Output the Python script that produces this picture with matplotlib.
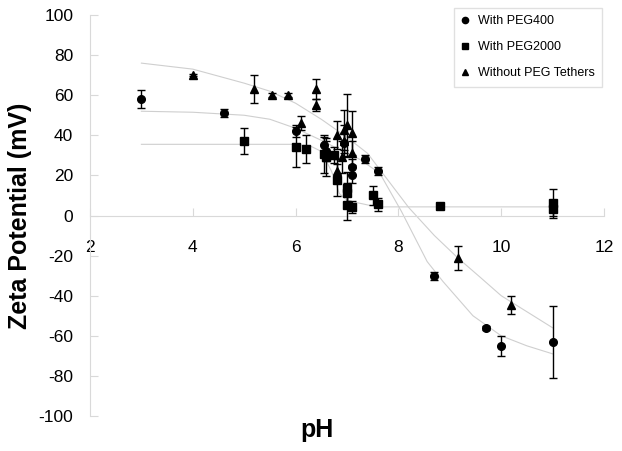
import matplotlib
matplotlib.use("Agg")
import matplotlib.pyplot as plt
from matplotlib.lines import Line2D

plt.rcParams['font.family'] = ['Liberation Sans', 'DejaVu Sans']
plt.rcParams['axes.unicode_minus'] = False

# ---- data ----
peg400_x = [3.0, 4.6, 6.0, 6.55, 6.6, 6.95, 7.1, 7.1, 7.35, 7.6, 8.7, 9.7, 10.0, 11.0]
peg400_y = [58, 51, 42, 35, 32, 36, 24, 20, 28, 22, -30, -56, -65, -63]
peg400_e = [4.5, 2, 3, 4, 5, 5, 4, 4, 2, 2, 2, 1, 5, 18]

peg2000_x = [5.0, 6.0, 6.2, 6.55, 6.6, 6.75, 6.8, 7.0, 7.0, 7.0, 7.1, 7.5, 7.6, 8.8, 11.0, 11.0]
peg2000_y = [37, 34, 33, 30.5, 29, 30, 17.5, 13.5, 11, 5, 4, 10, 5.5, 4.5, 6, 3]
peg2000_e = [6.5, 10, 7, 9.5, 9.5, 4, 8, 8, 5, 7, 3, 4.7, 3.3, 1.5, 7, 3]

nopeg_x = [4.0, 5.2, 5.55, 5.85, 6.1, 6.4, 6.4, 6.8, 6.8, 6.9, 6.95, 6.95, 7.0, 7.1, 7.1, 9.15, 10.2]
nopeg_y = [70, 63, 60, 60, 46, 63, 55, 40, 22, 29, 42.5, 37, 45, 41, 31, -21, -44.5]
nopeg_e = [0.5, 7, 1, 1, 3.5, 5, 3, 7, 6, 8, 10, 8, 15.5, 11, 6, 6, 4.5]

# trend lines
fit400_x = [3, 4, 5, 5.5, 6, 6.5, 7, 7.25, 7.64, 8.06, 8.56, 8.87, 9.45, 10, 10.5, 11]
fit400_y = [52, 51.5, 50, 48, 43.5, 37.5, 31, 28, 21, 2, -23, -33, -50, -60, -65, -69]

fit2000_x = [3, 6, 6.3, 6.5, 6.7, 6.85, 7.0, 7.45, 7.7, 11]
fit2000_y = [35.5, 35.5, 34.5, 32, 22, 11, 7.5, 5, 4.3, 4.3]

fitno_x = [3, 4, 5, 5.5, 6, 6.5, 7, 7.4, 8.2, 8.7, 9.15, 9.6, 10, 10.5, 11]
fitno_y = [76, 73, 66, 62, 56, 48, 39, 31, 4, -10, -21, -31, -40, -48, -56]

labels = ['With PEG400', 'With PEG2000', 'Without PEG Tethers']
xticks = [2, 4, 6, 8, 10, 12]
yticks = list(range(-100, 101, 20))

fig = plt.figure(figsize=(6.22, 4.51), dpi=100)
ax = fig.add_axes([90/622, 1-416/451, (604-90)/622, (416-15)/451])
ax.set_xlim(2, 12)
ax.set_ylim(-100, 100)

grey = '#cfcfcf'
axcol = '#d9d9d9'
for fx, fy in [(fit400_x, fit400_y), (fit2000_x, fit2000_y), (fitno_x, fitno_y)]:
    ax.plot(fx, fy, color=grey, lw=0.8, zorder=1, solid_joinstyle='round')

ekw = dict(ls='none', ecolor='black', elinewidth=1, capsize=3, capthick=1, color='black', zorder=3)
ax.errorbar(peg400_x, peg400_y, yerr=peg400_e, marker='o', ms=5.5, **ekw)
ax.errorbar(peg2000_x, peg2000_y, yerr=peg2000_e, marker='s', ms=5.5, **ekw)
ax.errorbar(nopeg_x, nopeg_y, yerr=nopeg_e, marker='^', ms=6, **ekw)

for s in ['top', 'right']:
    ax.spines[s].set_visible(False)
ax.spines['left'].set_color(axcol)
ax.spines['bottom'].set_color(axcol)
ax.spines['bottom'].set_position(('data', 0))
ax.set_xticks(xticks)
ax.set_yticks(yticks)
ax.tick_params(axis='both', direction='in', length=6, color=axcol, labelsize=12.5)
ax.tick_params(axis='x', pad=18)
ax.tick_params(axis='y', pad=12)

fig.text(317/622, 1-430/451, 'pH', fontsize=18, fontweight='bold', ha='center', va='center')
fig.text(20/622, 1-216/451, 'Zeta Potential (mV)', fontsize=18, fontweight='bold',
         ha='center', va='center', rotation=90)

handles = [Line2D([], [], ls='none', marker='o', color='black', ms=4.5),
           Line2D([], [], ls='none', marker='s', color='black', ms=4.5),
           Line2D([], [], ls='none', marker='^', color='black', ms=5)]
leg = fig.legend(handles, labels, loc='upper right', bbox_to_anchor=(602/622, 1-8/451),
                 fontsize=9, frameon=True, fancybox=False, labelspacing=1.1,
                 handlelength=0.6, handletextpad=0.7, borderpad=0.6, borderaxespad=0)
leg.get_frame().set_edgecolor(axcol)
leg.get_frame().set_linewidth(1)

fig.savefig('out.png', dpi=100)
